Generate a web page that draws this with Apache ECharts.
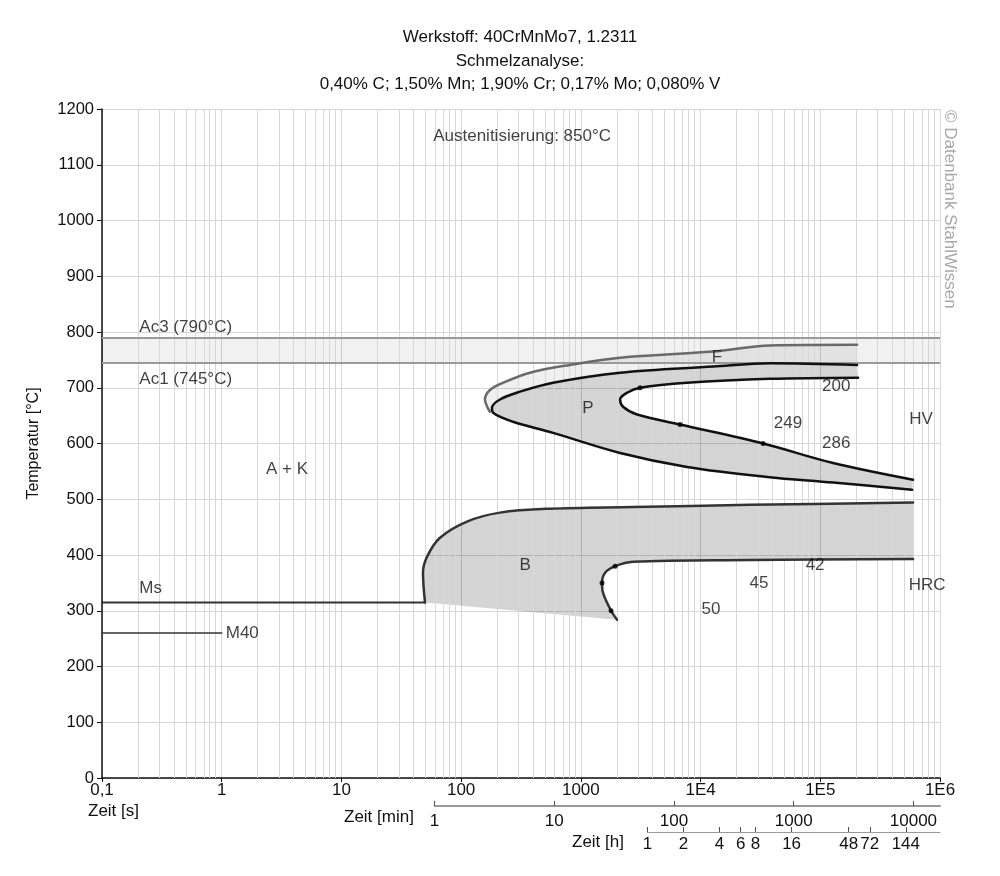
<!DOCTYPE html>
<html>
<head>
<meta charset="utf-8">
<script src="https://cdn.jsdelivr.net/npm/echarts@6/dist/echarts.min.js"></script>
<style>
html,body{margin:0;padding:0;background:#fff;}
#chart{width:1000px;height:876px;}
</style>
</head>
<body>
<div id="chart"></div>
<script>
// ---------- data (time in seconds, temperature in °C) ----------
const titleLines = ['Werkstoff: 40CrMnMo7, 1.2311', 'Schmelzanalyse:', '0,40% C; 1,50% Mn; 1,90% Cr; 0,17% Mo; 0,080% V'];
const secTicks = [0.1, 1, 10, 100, 1000, 1e4, 1e5, 1e6];
const secLabels = ['0,1', '1', '10', '100', '1000', '1E4', '1E5', '1E6'];
const minTicks = [1, 10, 100, 1000, 10000];
const hourTicks = [1, 2, 4, 6, 8, 16, 48, 72, 144];

const Ac3 = 790, Ac1 = 745;
const MsLine = [[0.1, 315], [49.9, 315]];
const M40Line = [[0.1, 260], [1, 260]];

const fCurve = [[2.03e5, 777], [3.8e4, 776], [1.27e4, 765], [2126, 754], [813, 741], [376, 727], [224, 709], [174, 696], [158, 679], [165, 666], [174, 657]];
const pStart = [[2.03e5, 741], [3.8e4, 744], [1.27e4, 738], [2126, 727], [586, 709], [310, 693], [211, 679], [181, 664], [185, 655], [271, 639], [586, 619], [2126, 583], [7709, 558], [3.59e4, 540], [1.28e5, 530], [5.85e5, 517]];
const pEnd = [[2.07e5, 718], [3.8e4, 716], [7709, 709], [3124, 700], [2432, 691], [2126, 679], [2252, 666], [2948, 652], [6741, 634], [3.33e4, 600], [1.28e5, 565], [5.96e5, 535]];
const bStart = [[49.9, 315], [48.0, 368], [51.9, 397], [66.6, 431], [112, 460], [211, 476], [553, 483], [2731, 486], [2.59e4, 490], [5.96e5, 494]];
const bEnd = [[2006, 284], [1788, 300], [1533, 332], [1503, 350], [1593, 368], [1931, 380], [2731, 388], [2.59e4, 391], [5.96e5, 393]];

const hvPoints = [[3124, 700], [6741, 634], [3.33e4, 600]];
const hrcPoints = [[1788, 300], [1503, 350], [1931, 380]];

const textLabels = [
  ['A + K', 3.51, 553], ['P', 1148, 664], ['F', 1.37e4, 754], ['B', 342, 382],
  ['200', 1.36e5, 702], ['249', 5.38e4, 637], ['286', 1.36e5, 601], ['HV', 6.95e5, 643],
  ['50', 1.22e4, 302], ['45', 3.08e4, 350], ['42', 9.05e4, 381], ['HRC', 7.8e5, 346],
  ['Austenitisierung: 850°C', 323, 1151]
];
const leftLabels = [
  ['Ac3 (790°C)', 0.205, 809], ['Ac1 (745°C)', 0.205, 716], ['Ms', 0.205, 341], ['M40', 1.08, 260]
];

// ---------- helpers ----------
const L = v => Math.log10(v);
const toXY = arr => arr.map(p => [L(p[0]), p[1]]);

const FONT = 'Liberation Sans, Arial, sans-serif';
const FS = 17;
const TXT = '#111';
const gLeft = 102, gRight = 60, gTop = 109, gBottom = 98;
const plotW = 1000 - gLeft - gRight;
const xMin = -1, xMax = 6;
const pxAt = sec => gLeft + plotW * (L(sec) - xMin) / (xMax - xMin);

// minor vertical grid positions (axis structure, not data)
const minorX = [];
for (let d = -1; d < 6; d++) for (let k = 2; k <= 9; k++) minorX.push(L(k * Math.pow(10, d)));

function polygonSeries(points, color, z) {
  return {
    type: 'custom', xAxisIndex: 0, yAxisIndex: 0, z: z, silent: true,
    data: [0],
    renderItem: function (params, api) {
      const pts = points.map(p => api.coord(p));
      return { type: 'polygon', shape: { points: pts, smooth: 0 }, style: { fill: color, stroke: null } };
    }
  };
}

const pPoly = toXY(pStart).concat(toXY(pEnd).slice().reverse());
const fPoly = toXY(fCurve).concat(toXY(pStart.slice(0, 9)).slice().reverse());
const bPoly = toXY(bStart).concat(toXY(bEnd).slice().reverse());

function lineSeries(data, color, width, z, smooth) {
  return {
    type: 'line', xAxisIndex: 0, yAxisIndex: 0, data: toXY(data), showSymbol: false, symbol: 'none',
    smooth: smooth, silent: true, z: z,
    lineStyle: { color: color, width: width, cap: 'round', join: 'round' }
  };
}

const chart = echarts.init(document.getElementById('chart'), null, { renderer: 'canvas' });

const axisLabelStyle = { color: TXT, fontSize: FS, fontFamily: FONT };

const option = {
  animation: false,
  backgroundColor: '#fff',
  grid: [
    { left: gLeft, right: gRight, top: gTop, bottom: gBottom },
    { left: pxAt(60), right: gRight, top: 805, height: 1 },
    { left: pxAt(3600), right: gRight, top: 831, height: 1 }
  ],
  xAxis: [
    {
      gridIndex: 0, type: 'value', min: xMin, max: xMax, interval: 1,
      axisLine: { onZero: false, lineStyle: { color: '#111', width: 1.5 } },
      axisTick: { length: 4, lineStyle: { color: '#111' } },
      axisLabel: Object.assign({ margin: 4, formatter: v => secLabels[secTicks.findIndex(t => Math.abs(L(t) - v) < 1e-6)] || '' }, axisLabelStyle),
      splitLine: { show: true, lineStyle: { color: '#d6d6d6', width: 1 } }
    },
    {
      gridIndex: 1, type: 'value', min: L(60), max: xMax, position: 'bottom',
      axisLine: { onZero: false, lineStyle: { color: '#9a9a9a', width: 2 } },
      axisTick: { inside: true, length: 5, lineStyle: { color: '#555' }, customValues: minTicks.map(m => L(m * 60)) },
      axisLabel: Object.assign({ margin: 7, customValues: minTicks.map(m => L(m * 60)), formatter: v => String(Math.round(Math.pow(10, v) / 60)) }, axisLabelStyle),
      splitLine: { show: false }
    },
    {
      gridIndex: 2, type: 'value', min: L(3600), max: xMax, position: 'bottom',
      axisLine: { onZero: false, lineStyle: { color: '#9a9a9a', width: 1 } },
      axisTick: { inside: true, length: 5, lineStyle: { color: '#555' }, customValues: hourTicks.map(h => L(h * 3600)) },
      axisLabel: Object.assign({ margin: 4, customValues: hourTicks.map(h => L(h * 3600)), formatter: v => String(Math.round(Math.pow(10, v) / 3600)) }, axisLabelStyle),
      splitLine: { show: false }
    }
  ],
  yAxis: [
    {
      gridIndex: 0, type: 'value', min: 0, max: 1200, interval: 100,
      name: 'Temperatur [°C]', nameLocation: 'middle', nameGap: 60, nameRotate: 90,
      nameTextStyle: { color: TXT, fontSize: 16, fontFamily: FONT },
      axisLine: { show: true, onZero: false, lineStyle: { color: '#111', width: 1.5 } },
      axisTick: { show: true, length: 5, lineStyle: { color: '#111' } },
      axisLabel: Object.assign({ margin: 8, formatter: v => String(v) }, axisLabelStyle, { fontSize: 16.5 }),
      splitLine: { show: true, lineStyle: { color: '#d6d6d6', width: 1 } }
    },
    { gridIndex: 1, type: 'value', show: false, min: 0, max: 1 },
    { gridIndex: 2, type: 'value', show: false, min: 0, max: 1 }
  ],
  graphic: [
    { type: 'text', x: 520, y: 26, style: { text: titleLines.join('\n'), fontSize: FS, lineHeight: 23.5, fontFamily: FONT, fill: TXT, align: 'center' } },
    { type: 'text', x: 88, y: 803, style: { text: 'Zeit [s]', fontSize: FS, fontFamily: FONT, fill: TXT } },
    { type: 'text', x: 344, y: 809, style: { text: 'Zeit [min]', fontSize: FS, fontFamily: FONT, fill: TXT } },
    { type: 'text', x: 572, y: 834, style: { text: 'Zeit [h]', fontSize: FS, fontFamily: FONT, fill: TXT } },
    { type: 'text', x: 958, y: 110, rotation: -Math.PI / 2, style: { text: '© Datenbank StahlWissen', fontSize: 17, fontFamily: FONT, fill: '#a8a8a8' } }
  ],
  series: [
    // minor vertical grid lines
    {
      type: 'line', xAxisIndex: 0, yAxisIndex: 0, data: [], silent: true, z: 1,
      markLine: { silent: true, symbol: 'none', label: { show: false }, animation: false,
        lineStyle: { color: '#d8d8d8', width: 1, type: 'solid' },
        data: minorX.map(v => ({ xAxis: v })) }
    },
    // Ac band
    {
      type: 'line', xAxisIndex: 0, yAxisIndex: 0, data: [], silent: true, z: 2,
      markArea: { silent: true, itemStyle: { color: 'rgba(0,0,0,0.055)' }, data: [[{ yAxis: Ac1 }, { yAxis: Ac3 }]] },
      markLine: { silent: true, symbol: 'none', label: { show: false }, animation: false,
        lineStyle: { color: '#9a9a9a', width: 2, type: 'solid' },
        data: [{ yAxis: Ac3 }, { yAxis: Ac1 }] }
    },
    polygonSeries(fPoly, 'rgba(0,0,0,0.06)', 3),
    polygonSeries(pPoly, 'rgba(0,0,0,0.17)', 3),
    polygonSeries(bPoly, 'rgba(0,0,0,0.17)', 3),
    lineSeries(fCurve, '#6a6a6a', 2.5, 5, 0.35),
    lineSeries(pStart, '#111', 2.5, 6, 0.35),
    lineSeries(pEnd, '#111', 2.5, 6, 0.35),
    lineSeries(bStart, '#333', 2.5, 6, 0.35),
    lineSeries(bEnd, '#333', 2.5, 6, 0.35),
    lineSeries(MsLine, '#333', 2, 6, false),
    lineSeries(M40Line, '#333', 1.5, 6, false),
    {
      type: 'scatter', xAxisIndex: 0, yAxisIndex: 0, z: 7, silent: true,
      symbol: 'circle', symbolSize: 5, itemStyle: { color: '#000' },
      data: toXY(hvPoints.concat(hrcPoints))
    },
    {
      type: 'scatter', xAxisIndex: 0, yAxisIndex: 0, z: 8, silent: true, symbolSize: 0,
      data: textLabels.map(t => ({ value: [L(t[1]), t[2]], name: t[0] })),
      label: { show: true, position: 'inside', formatter: p => p.name, color: TXT, fontSize: FS, fontFamily: FONT }
    },
    {
      type: 'scatter', xAxisIndex: 0, yAxisIndex: 0, z: 8, silent: true, symbolSize: 0,
      data: leftLabels.map(t => ({ value: [L(t[1]), t[2]], name: t[0] })),
      label: { show: true, position: 'right', distance: 0, align: 'left', formatter: p => p.name, color: TXT, fontSize: FS, fontFamily: FONT }
    }
  ]
};
chart.setOption(option);
</script>
</body>
</html>
